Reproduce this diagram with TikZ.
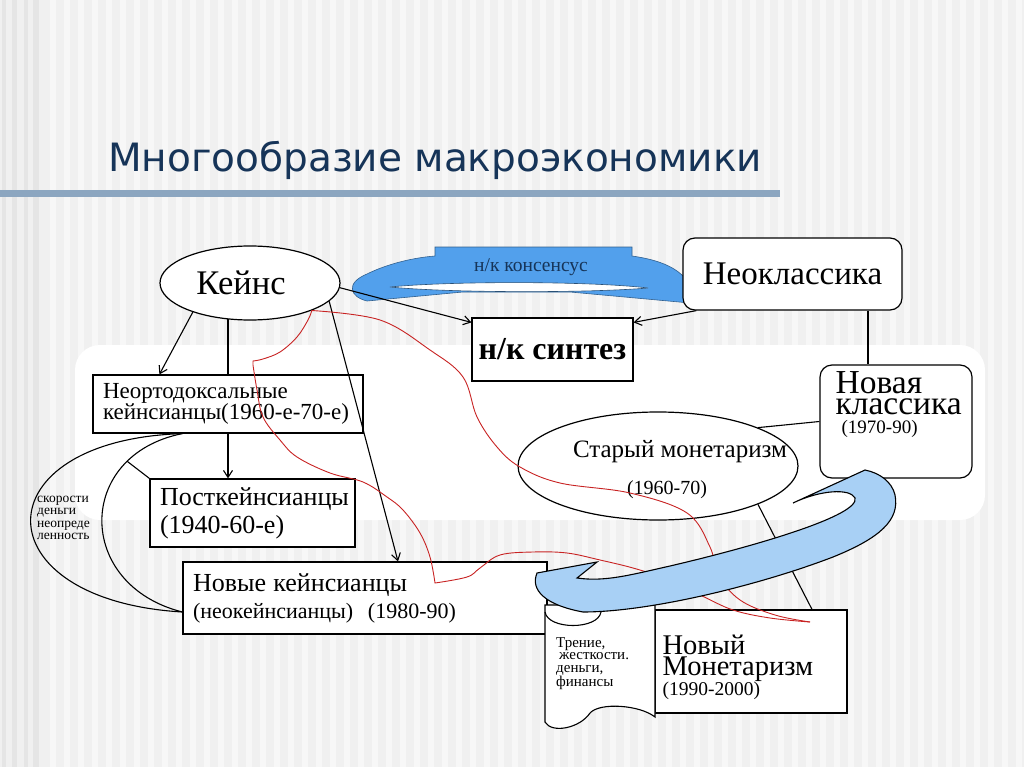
\documentclass[tikz,border=0pt]{standalone}
\usepackage{fontspec}
\setmainfont{Liberation Serif}
\newfontfamily\titlefont{DejaVu Sans}
\usetikzlibrary{shapes.geometric,arrows.meta}
\pgfdeclarelayer{back}
\pgfdeclarelayer{lines}
\pgfsetlayers{back,lines,main}

\definecolor{titleblue}{RGB}{22,52,88}
\definecolor{barblue}{RGB}{140,166,192}
\definecolor{bannerblue}{RGB}{82,160,236}
\definecolor{ribbonblue}{RGB}{168,208,245}
\definecolor{redline}{RGB}{200,35,35}
\definecolor{bggray}{RGB}{240,240,240}
\definecolor{stripegray}{RGB}{247,247,247}

\newcommand{\setfs}[2]{\fontsize{#1}{#2}\selectfont}

\tikzset{
	box/.style={draw, fill=white, line width=1.2pt, inner sep=0pt},
	sqbox/.style={box, rectangle, align=left, inner xsep=10pt},
	rbox/.style={box, rectangle, rounded corners=12pt},
	oval/.style={box, ellipse},
	link/.style={line width=1.1pt},
	arr/.style={link, -{Straight Barb[length=7pt,width=9pt]}},
	redcurve/.style={redline, line width=0.9pt},
	plain/.style={inner sep=0pt, align=left}
}

\begin{document}
\begin{tikzpicture}[x=1pt, y=-1pt]
	\useasboundingbox (0,0) rectangle (1024,767);

	% slide background
	\begin{pgfonlayer}{back}
		\fill[bggray] (0,0) rectangle (1024,767);
		\foreach \x in {50,64,...,1020}
			\fill[stripegray] (\x,0) rectangle ++(6,767);
		\foreach \x/\w in {2/4,12/5,24/4,33/6}
			\fill[gray!20] (\x,0) rectangle ++(\w,767);
		\fill[white, rounded corners=25pt] (75,345) rectangle (985,520);
		\fill[barblue] (0,190) rectangle (780,197);
	\end{pgfonlayer}

	\node[plain, anchor=base west, font=\titlefont\setfs{39}{41}, text=titleblue] (title) at (108,172) {Многообразие макроэкономики};

	% main schools
	\node[oval, minimum width=180pt, minimum height=74pt] (keynes) at (250,283) {};
	\node[plain, font=\setfs{34.5}{36}] (keynestext) at ([xshift=-9pt]keynes.center) {Кейнс};
	\node[rbox, minimum width=219pt, minimum height=72pt, font=\setfs{33}{36}] (neo) at (792.5,274) {Неоклассика};
	\node[box, minimum width=161pt, minimum height=63pt, font=\setfs{32}{34}\bfseries] (synth) at (552.5,349.5) {н/к синтез};
	\node[plain, font=\setfs{19.5}{20}, text=titleblue] (consensus) at (531,267) {н/к консенсус};

	\node[sqbox, minimum height=58pt, text width=250pt, font=\setfs{23}{21}] (unorth) at (228,404) {Неортодоксальные\\кейнсианцы(1960-е-70-е)};
	\node[sqbox, minimum height=68pt, text width=185pt, font=\setfs{26}{28}] (post) at (252.5,513) {Посткейнсианцы\\(1940-60-е)};
	\node[sqbox, minimum height=72pt, text width=344pt, font=\setfs{22}{27}] (newk) at (365,598) {{\setfs{26}{27}Новые кейнсианцы}\\(неокейнсианцы)\ \ (1980-90)};

	\node[oval, minimum width=280pt, minimum height=108pt] (oldmon) at (658,466) {};
	\node[plain, font=\setfs{25}{26}] (oldmontitle) at ([xshift=22pt,yshift=14pt]oldmon.center) {Старый монетаризм};
	\node[plain, font=\setfs{20}{22}] (oldmonyear) at ([xshift=9pt,yshift=-24pt]oldmon.center) {(1960-70)};

	\node[rbox, minimum width=152pt, minimum height=113pt] (newcl) at (896,421.5) {};
	\node[plain, anchor=north west, font=\setfs{33.5}{21}] (newcltitle) at ([xshift=16pt,yshift=-7pt]newcl.north west) {Новая\\классика};
	\node[plain, anchor=base west, font=\setfs{19}{20}] (newclyear) at ([xshift=22pt,yshift=-69pt]newcl.north west) {(1970-90)};

	\node[box, minimum width=192pt, minimum height=103pt] (newmon) at (751,661.5) {};
	\node[plain, anchor=north west, font=\setfs{28.5}{21}] (newmontitle) at ([xshift=8pt,yshift=-25pt]newmon.north west) {Новый\\Монетаризм};
	\node[plain, anchor=base west, font=\setfs{19.5}{20}] (newmonyear) at ([xshift=8pt,yshift=-86pt]newmon.north west) {(1990-2000)};

	\begin{pgfonlayer}{lines}
		% consensus banner
		\draw[fill=bannerblue, draw=bannerblue!60!black, line width=0.6pt]
			(435,247) -- (632,247) -- (632,256) .. controls (660,260) and (680,268) .. (690,285)
			-- (690,303) -- (570,292) -- (463,292) -- (367,301)
			.. controls (350,297) and (345,283) .. (367,274) .. controls (385,265) and (410,258) .. (435,256) -- cycle;
		\draw[fill=white, draw=bannerblue!50!black, line width=0.6pt]
			(390,287) .. controls (450,281) and (590,281) .. (648,288) .. controls (590,293) and (450,293) .. cycle;

		\draw[arr] (keynes.-3) -- ([yshift=-5pt]synth.north west);
		\draw[arr] ([xshift=14pt]neo.south west) -- ([yshift=-5pt]synth.north east);
		\draw[arr] (keynes.207) -- ([xshift=67pt]unorth.north west);
		\draw[arr] ([xshift=-22pt]keynes.center) -- ([xshift=-24.5pt]post.north);
		\draw[link] ([xshift=75.5pt]neo.south) -- ([xshift=-28pt]newcl.north);
		\draw[link] (oldmon.21) -- (newcl.west);
		\draw[link] (oldmon.-21) -- ([xshift=61pt]newmon.north);

		% crescent
		\draw[link] ([xshift=90pt]unorth.south west) .. controls (-20,440) and (-20,600) .. ([yshift=-14pt]newk.west);
		\draw[link] ([xshift=90pt]unorth.south west) .. controls (75,455) and (75,585) .. coordinate[pos=0.22] (crescent) ([yshift=-14pt]newk.west);
		\draw[link] (crescent) -- (post.north west);
	\end{pgfonlayer}

	\draw[arr] (keynes.-13) -- ([xshift=33pt]newk.north);
	\node[plain, anchor=north west, font=\setfs{13.5}{12.3}] (crescenttext) at (37,496) {скорости\\деньги\\неопреде\\ленность};

	% red links
	\draw[redcurve] plot[smooth, tension=0.6] coordinates {(keynes.-24) (380,320) (430,350) (463,377) (477,417) (497,447) (520,467) (560,483) (630,493) (687,513) (710,547) (718,575) (740,600) (775,615) ([xshift=59pt,yshift=39.5pt]newmon.center)};
	\draw[redcurve] plot[smooth, tension=0.6] coordinates {(keynes.-24) (308,320) (297,337) (280,352) (263,359) (253,361)}
		-- plot[smooth, tension=0.6] coordinates {(253,365) (257,390) (263,417) (280,440) (297,457) (330,473) (363,482) (387,497) (403,510) (420,533) (430,557) (435,583)}
		-- plot[smooth, tension=0.6] coordinates {(435,583) (467,577) (480,568) (500,555) (533,552) (567,553) (600,560) (633,568) (660,577) (700,595) (733,610) (770,618) ([xshift=59pt,yshift=39.5pt]newmon.center)};

	% scroll
	\draw[link, fill=white] (545,605) -- (545,722) .. controls (552,734) and (580,728) .. (590,713)
		.. controls (600,702) and (640,705) .. (655,717) -- (655,605) -- cycle;
	\draw[link] (545,612) .. controls (548,630) and (598,630) .. (601,612);
	\node[plain, anchor=north west, font=\setfs{15}{12.8}] (scrolltext) at (556,637) {Трение,\\\hspace*{3pt}жесткости.\\деньги,\\финансы};

	% curved arrow
	\draw[link, fill=ribbonblue] (865,470) -- (793,503)
		.. controls (820,490) and (850,488) .. (855,498)
		.. controls (860,515) and (760,545) .. (670,566)
		.. controls (630,575) and (605,582) .. (577,578)
		-- (597,562) -- (537,573)
		.. controls (530,590) and (545,605) .. (583,612)
		.. controls (650,612) and (760,585) .. (833,557)
		.. controls (880,538) and (900,520) .. (895,495)
		.. controls (892,482) and (880,473) .. cycle;
\end{tikzpicture}
\end{document}
